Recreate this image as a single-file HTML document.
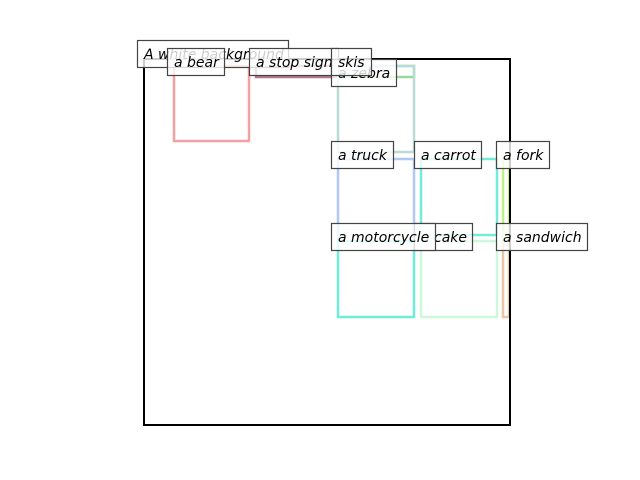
<!DOCTYPE html>
<html><head><style>
html,body{margin:0;padding:0;background:#fff;width:640px;height:480px;overflow:hidden}
text{font-family:"DejaVu Sans","Liberation Sans",sans-serif;font-style:oblique;font-size:14px;fill:#000}
</style></head><body>
<svg width="640" height="480" viewBox="0 0 640 480" xmlns="http://www.w3.org/2000/svg">
<rect x="0" y="0" width="640" height="480" fill="#fff"/>
<g fill="none" stroke-width="2.5" stroke-linejoin="miter">
<rect x="174" y="66" width="75" height="75" stroke="#f4a0a0"/>
<rect x="256" y="66" width="81" height="11" stroke="#b07888"/>
<rect x="338" y="66" width="76" height="11" stroke="#98d898"/>
<rect x="338" y="66" width="76" height="86" stroke="#b8dcd4"/>
<rect x="338" y="159" width="76" height="82" stroke="#b0c8f4"/>
<rect x="338" y="241" width="76" height="76" stroke="#70ecd8"/>
<rect x="421" y="159" width="76" height="76" stroke="#70ecd8"/>
<rect x="421" y="241" width="76" height="76" stroke="#ccf8dc"/>
<rect x="503" y="159" width="6" height="82" stroke="#c0f080"/>
<rect x="503" y="241" width="6" height="76" stroke="#e8c8a0"/>
</g>
<rect x="144" y="59" width="366" height="366" fill="none" stroke="#000" stroke-width="2"/>
<g stroke="#444" stroke-width="1.2" fill="#fff" fill-opacity="0.8">
<rect x="137.5" y="40.5" width="151" height="27"/>
</g>
<text x="144" y="59">A white background</text>
<g stroke="#444" stroke-width="1.2" fill="#fff" fill-opacity="0.8">
<rect x="167.5" y="48.5" width="57" height="27"/>
</g>
<text x="174" y="67">a bear</text>
<g stroke="#444" stroke-width="1.2" fill="#fff" fill-opacity="0.8"><rect x="249.5" y="48.5" width="89" height="27"/></g>
<text x="256" y="67">a stop sign</text>
<g stroke="#444" stroke-width="1.2" fill="#fff" fill-opacity="0.8"><rect x="331.5" y="59.5" width="65" height="27"/></g>
<text x="338" y="78">a zebra</text>
<g stroke="#444" stroke-width="1.2" fill="#fff" fill-opacity="0.8"><rect x="331.5" y="48.5" width="40" height="27"/></g>
<text x="338" y="67">skis</text>
<g stroke="#444" stroke-width="1.2" fill="#fff" fill-opacity="0.8"><rect x="331.5" y="141.5" width="62" height="27"/></g>
<text x="338" y="160">a truck</text>
<g stroke="#444" stroke-width="1.2" fill="#fff" fill-opacity="0.8"><rect x="414.5" y="141.5" width="67" height="27"/></g>
<text x="421" y="160">a carrot</text>
<g stroke="#444" stroke-width="1.2" fill="#fff" fill-opacity="0.8"><rect x="496.5" y="141.5" width="53" height="27"/></g>
<text x="503" y="160">a fork</text>
<g stroke="#444" stroke-width="1.2" fill="#fff" fill-opacity="0.8"><rect x="414.5" y="223.5" width="58" height="27"/></g>
<text x="421" y="242">a cake</text>
<g stroke="#444" stroke-width="1.2" fill="#fff" fill-opacity="0.8"><rect x="331.5" y="223.5" width="104" height="27"/></g>
<text x="338" y="242">a motorcycle</text>
<g stroke="#444" stroke-width="1.2" fill="#fff" fill-opacity="0.8"><rect x="496.5" y="223.5" width="91" height="27"/></g>
<text x="503" y="242">a sandwich</text>
</svg>
</body></html>
